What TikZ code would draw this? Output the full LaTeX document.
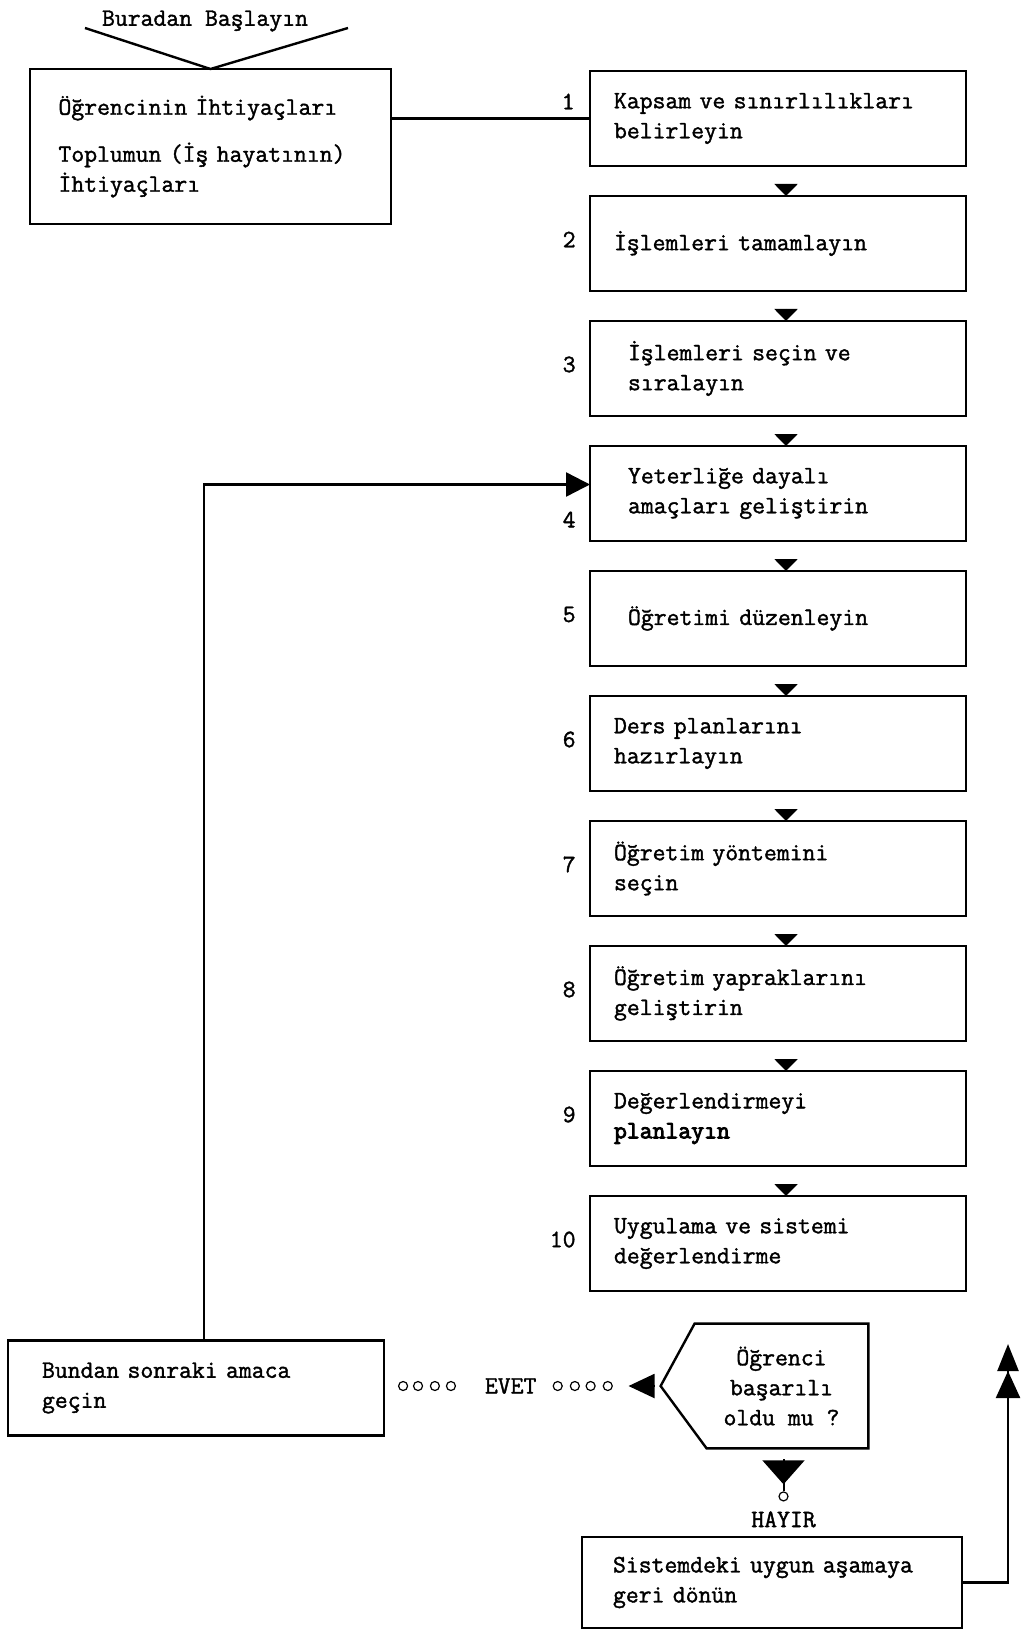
\documentclass[tikz,border=0pt]{standalone}
\usepackage{fontspec}
\setmainfont{Latin Modern Mono}[FakeBold=1.5]
\newfontfamily\heavytt{Latin Modern Mono}[FakeBold=3.5]
\usetikzlibrary{arrows.meta,positioning,calc}

\tikzset{
  stepbox/.style={draw, line width=1.4pt, outer sep=0pt, minimum width=188pt, minimum height=47.5pt,
                  text width=164pt, align=left, inner sep=0pt},
  narrow/.style={text width=150pt},
  startbox/.style={stepbox, minimum width=180.5pt, minimum height=77.5pt, text width=152pt},
  num/.style={anchor=east, inner sep=0pt},
  flowtip/.style={line width=1pt, -{Triangle[length=6pt,width=11.5pt]}, shorten <=9pt},
  ring/.style={circle, draw, line width=0.6pt, minimum size=4.5pt, inner sep=0pt},
  conn/.style={line width=1.2pt}
}

\begin{document}
\begin{tikzpicture}[x=0.5pt, y=-0.5pt, node distance=15pt,
                    every node/.style={font=\fontsize{12.5}{15}\selectfont}]
  \useasboundingbox (0,0) rectangle (1022,1631);

  % giris
  \node[startbox] (start) at (210.5,146.5) {Öğrencinin İhtiyaçları\\[8.5pt] Toplumun (İş hayatının)\\ İhtiyaçları};
  \node (here) at (205,21) {Buradan Başlayın};
  \coordinate (vl) at (85,28);
  \coordinate (vr) at (348,28);
  \draw[conn] (vl) -- (start.north) -- (vr);

  % adimlar
  \node[stepbox] (b1) at (778,118.5) {Kapsam ve sınırlılıkları\\ belirleyin};
  \node[stepbox, below=of b1] (b2) {İşlemleri tamamlayın};
  \node[stepbox, narrow, below=of b2] (b3) {İşlemleri seçin ve\\ sıralayın};
  \node[stepbox, narrow, below=of b3] (b4) {Yeterliğe dayalı\\ amaçları geliştirin};
  \node[stepbox, narrow, below=of b4] (b5) {Öğretimi düzenleyin};
  \node[stepbox, below=of b5] (b6) {Ders planlarını\\ hazırlayın};
  \node[stepbox, below=of b6] (b7) {Öğretim yöntemini\\ seçin};
  \node[stepbox, below=of b7] (b8) {Öğretim yapraklarını\\ geliştirin};
  \node[stepbox, below=of b8] (b9) {Değerlendirmeyi\\ {\heavytt planlayın}};
  \node[stepbox, below=of b9] (b10) {Uygulama ve sistemi\\ değerlendirme};

  \node[num] at ($(b1.west)+(-15,-17)$) {1};
  \node[num] at ($(b4.west)+(-14,26)$) {4};
  \foreach \i in {2,3,5,6,7,8,9,10}
    \node[num] at ($(b\i.west)+(-14,-4)$) {\i};

  \foreach \i [count=\j from 2] in {1,...,9}
    \draw[flowtip] ($(b\i.south)+(8,0)$) -- ($(b\j.north)+(8,0)$);

  \draw[conn] (b1.west -| start.east) -- (b1.west);

  % karar
  \node[stepbox, text width=154pt] (bundan) at (196,1388) {Bundan sonraki amaca\\ geçin};
  \node[align=center, minimum width=86.5pt, minimum height=62pt] (dec) at (781.5,1386)
    {Öğrenci\\ başarılı\\ oldu mu ?};
  \draw[conn] (dec.north west) -- (dec.north east) -- (dec.south east)
    -- ($(dec.south west)+(12,0)$) -- ($(dec.west)+(-34,0)$) coordinate (dectip) -- cycle;

  \draw[conn, -{Triangle[length=12pt,width=12pt]}] ($(bundan.north)+(8,0)$) |- ($(b4.west)+(0,-9)$);

  % evet
  \coordinate (evetend) at (dectip -| bundan.east);
  \draw[line width=1pt, -{Triangle[length=13pt,width=12pt]}, shorten <=3pt]
    (dectip) -- ($(dectip)!0.116!(evetend)$);
  \foreach \p in {0.191,0.253,0.31,0.372,0.758,0.816,0.877,0.931}
    \node[ring] at ($(dectip)!\p!(evetend)$) {};
  \node (evet) at ($(dectip)!0.542!(evetend)$) {EVET};

  % hayir
  \node[ring] (hc) at ($(dec.south)+(2,48)$) {};
  \draw[line width=1pt, -{Triangle[length=12pt,width=21pt]}, shorten <=5.5pt, shorten >=3.5pt]
    (dec.south -| hc) -- (hc.north);
  \draw[line width=1pt] (hc.north) -- ++(0,-8);
  \node (hay) at ($(hc)+(0,23)$) {HAYIR};

  \node[stepbox, minimum width=190pt, minimum height=45.5pt, text width=159pt] (sist) at (772,1582.5)
    {Sistemdeki uygun aşamaya\\ geri dönün};
  \coordinate (ret) at (1008,1344);
  \draw[conn, -{Triangle[length=13.5pt,width=12pt]Triangle[length=13.5pt,width=10.5pt]}] (sist.east) -| (ret);
\end{tikzpicture}
\end{document}
